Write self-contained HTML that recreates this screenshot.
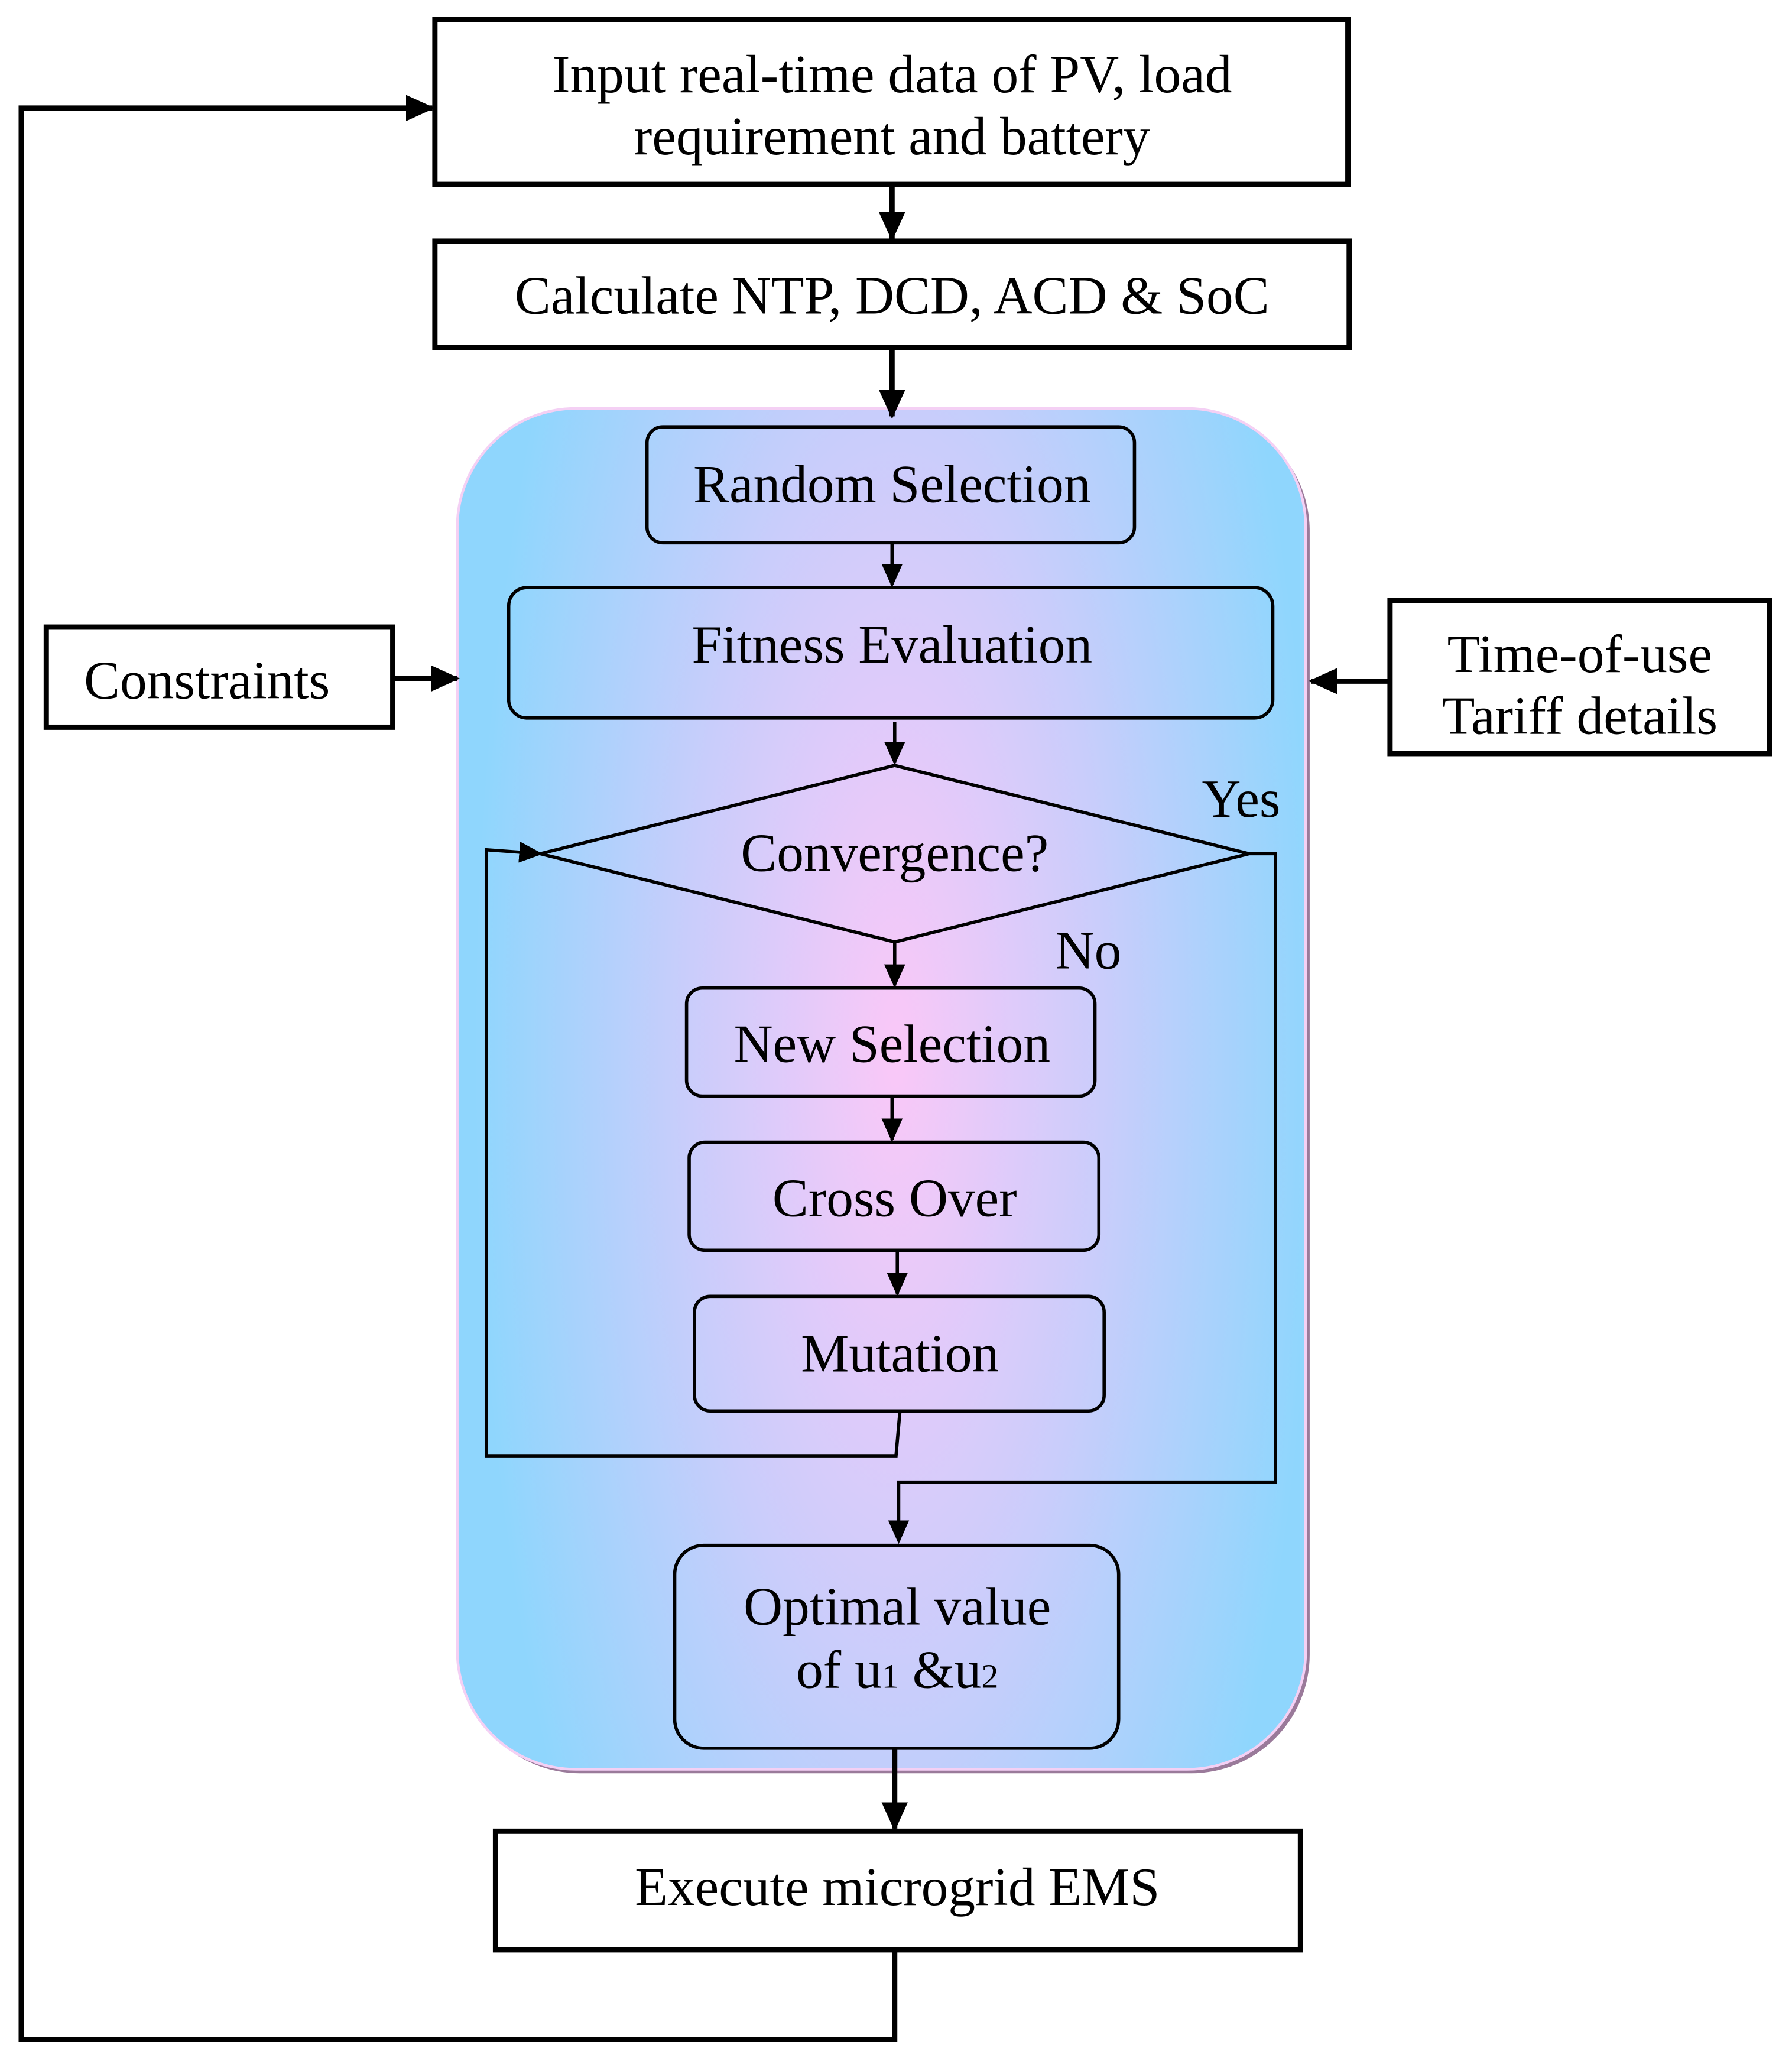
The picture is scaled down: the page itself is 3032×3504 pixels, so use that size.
<!DOCTYPE html>
<html><head><meta charset="utf-8"><style>html,body{margin:0;padding:0;background:#fff}svg{display:block}</style></head>
<body>
<svg width="3032" height="3504" viewBox="0 0 1360 1572" xmlns="http://www.w3.org/2000/svg" font-family="Liberation Serif, serif" font-size="41" text-anchor="middle">
<defs>
<radialGradient id="g" cx="680" cy="800" r="320" gradientUnits="userSpaceOnUse" gradientTransform="translate(680 800) scale(1 3) translate(-680 -800)">
<stop offset="0" stop-color="#fac8f8"/><stop offset="0.5" stop-color="#c9cdfb"/><stop offset="1" stop-color="#8fd6fd"/>
</radialGradient>
<marker id="b" markerWidth="22" markerHeight="20" refX="20" refY="10" orient="auto" markerUnits="userSpaceOnUse"><path d="M0,0 L22,10 L0,20 z"/></marker>
<marker id="c" markerWidth="18" markerHeight="16" refX="16" refY="8" orient="auto" markerUnits="userSpaceOnUse"><path d="M0,0 L18,8 L0,16 z"/></marker>
</defs>
<rect x="350" y="313" width="644" height="1033" rx="90" fill="#9a7a9a"/>
<rect x="347" y="310" width="644" height="1033" rx="90" fill="url(#g)" stroke="#f4d0f4" stroke-width="2"/>
<g fill="none" stroke="#000" stroke-width="4">
<rect x="330" y="15" width="693" height="125"/>
<rect x="330" y="183" width="694" height="81"/>
<rect x="376" y="1390" width="611" height="90"/>
<rect x="35" y="476" width="263" height="76"/>
<rect x="1055" y="456" width="288" height="116"/>
<line x1="677" y1="140" x2="677" y2="181" marker-end="url(#b)"/>
<line x1="677" y1="266" x2="677" y2="316" marker-end="url(#b)"/>
<line x1="679" y1="1327" x2="679" y2="1388" marker-end="url(#b)"/>
<line x1="298" y1="515" x2="347" y2="515" marker-end="url(#b)"/>
<line x1="1055" y1="517" x2="995" y2="517" marker-end="url(#b)"/>
<polyline points="679,1480 679,1548 16,1548 16,82 328,82" marker-end="url(#b)"/>
</g>
<g fill="none" stroke="#000" stroke-width="2.5">
<rect x="491" y="324" width="370" height="88" rx="12"/>
<rect x="386" y="446" width="580" height="99" rx="14"/>
<polygon points="679,581 948,648 679,715 410,648"/>
<rect x="521" y="750" width="310" height="82" rx="12"/>
<rect x="523" y="867" width="311" height="82" rx="12"/>
<rect x="527" y="984" width="311" height="87" rx="12"/>
<rect x="512" y="1173" width="337" height="154" rx="22"/>
<line x1="677" y1="412" x2="677" y2="444" marker-end="url(#c)"/>
<line x1="679" y1="548" x2="679" y2="579" marker-end="url(#c)"/>
<line x1="679" y1="715" x2="679" y2="748" marker-end="url(#c)"/>
<line x1="677" y1="832" x2="677" y2="865" marker-end="url(#c)"/>
<line x1="681" y1="950" x2="681" y2="982" marker-end="url(#c)"/>
<polyline points="683,1071 680,1105 369,1105 369,645 410,648" marker-end="url(#c)"/>
<polyline points="948,648 968,648 968,1125 682,1125 682,1170" marker-end="url(#c)"/>
</g>
<g fill="#000">
<text x="677" y="70">Input real-time data of PV, load</text>
<text x="677" y="117">requirement and battery</text>
<text x="677" y="238">Calculate NTP, DCD, ACD &amp; SoC</text>
<text x="677" y="381">Random Selection</text>
<text x="677" y="503">Fitness Evaluation</text>
<text x="679" y="661">Convergence?</text>
<text x="942" y="620">Yes</text>
<text x="826" y="735">No</text>
<text x="677" y="806">New Selection</text>
<text x="679" y="923">Cross Over</text>
<text x="683" y="1041">Mutation</text>
<text x="681" y="1233">Optimal value</text>
<text x="681" y="1281">of u<tspan font-size="26">1</tspan> &amp;u<tspan font-size="26">2</tspan></text>
<text x="681" y="1446">Execute microgrid EMS</text>
<text x="157" y="530">Constraints</text>
<text x="1199" y="510">Time-of-use</text>
<text x="1199" y="557">Tariff details</text>
</g>
</svg>
</body></html>
